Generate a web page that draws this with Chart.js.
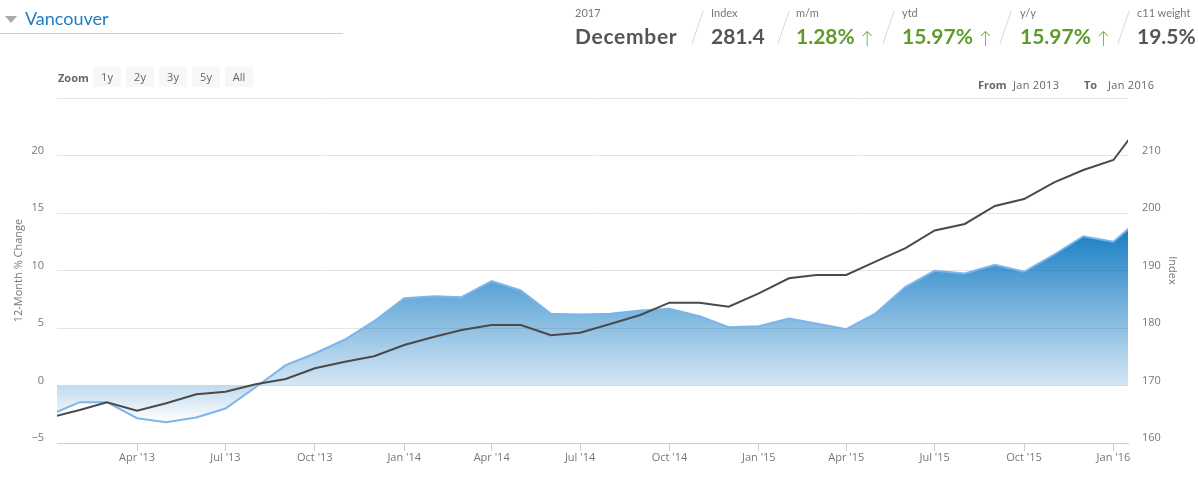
<!DOCTYPE html>
<html><head><meta charset="utf-8">
<script src="https://cdn.jsdelivr.net/npm/chart.js@4"></script>
<style>
html,body{margin:0;padding:0;background:#fff;width:1198px;height:478px;overflow:hidden;font-family:Lato,sans-serif}
#c{position:absolute;left:0;top:0}
.t{position:absolute;white-space:nowrap;line-height:1}
.lab{font-size:11px;color:#777;top:7px}
.big{font-size:21px;color:#555;font-weight:700;top:25px}
.up{color:#5f9a2a}
.ar{font-weight:300;font-size:17px;margin-left:1px}
.sl{position:absolute;width:1px;height:35px;background:#d8d8d8;top:10px;transform:rotate(19deg)}
.btn{position:absolute;top:67px;height:20px;width:28px;background:#f7f7f7;color:#666;font:11px "Open Sans",sans-serif;text-align:center;line-height:19px}
.r{font:11px "Open Sans",sans-serif;color:#666;top:77px}
.v{letter-spacing:.3px}
</style></head><body>
<canvas id="c" width="1198" height="478"></canvas>
<div style="position:absolute;left:5px;top:16px;width:0;height:0;border-left:6px solid transparent;border-right:6px solid transparent;border-top:7px solid #aaa"></div>
<div class="t" style="left:25px;top:9px;font-size:18px;color:#1f7cc0">Vancouver</div>
<div style="position:absolute;left:0;top:33px;width:343px;height:1px;background:#ccc"></div>
<div class="t lab" style="left:575px">2017</div><div class="t big" style="left:575px;letter-spacing:.7px">December</div>
<div class="sl" style="left:697px"></div>
<div class="t lab" style="left:711px">Index</div><div class="t big" style="left:711px">281.4</div>
<div class="sl" style="left:783px"></div>
<div class="t lab" style="left:796px">m/m</div><div class="t big up" style="left:796px">1.28% <span class="ar">↑</span></div>
<div class="sl" style="left:888px"></div>
<div class="t lab" style="left:902px">ytd</div><div class="t big up" style="left:902px">15.97% <span class="ar">↑</span></div>
<div class="sl" style="left:1005px"></div>
<div class="t lab" style="left:1020px">y/y</div><div class="t big up" style="left:1020px">15.97% <span class="ar">↑</span></div>
<div class="sl" style="left:1123px"></div>
<div class="t lab" style="left:1137px">c11 weight</div><div class="t big" style="left:1137px">19.5%</div>
<div class="t r" style="left:58px;top:70px;font-weight:700">Zoom</div>
<div class="btn" style="left:93px">1y</div><div class="btn" style="left:126px">2y</div><div class="btn" style="left:159px">3y</div><div class="btn" style="left:192px">5y</div><div class="btn" style="left:225px">All</div>
<div class="t r" style="left:978px;font-weight:700">From</div><div class="t r v" style="left:1013px">Jan 2013</div>
<div class="t r" style="left:1084px;font-weight:700">To</div><div class="t r v" style="left:1108px">Jan 2016</div>
<script>
const months=['2013-01','2013-02','2013-03','2013-04','2013-05','2013-06','2013-07','2013-08','2013-09','2013-10','2013-11','2013-12',
'2014-01','2014-02','2014-03','2014-04','2014-05','2014-06','2014-07','2014-08','2014-09','2014-10','2014-11','2014-12',
'2015-01','2015-02','2015-03','2015-04','2015-05','2015-06','2015-07','2015-08','2015-09','2015-10','2015-11','2015-12',
'2016-01','2016-02'];
const changePct=[-2.57,-1.45,-1.45,-2.84,-3.19,-2.78,-2.0,-0.15,1.77,2.78,4.0,5.59,
7.59,7.77,7.68,9.07,8.26,6.23,6.17,6.23,6.52,6.67,6.03,5.07,
5.16,5.83,5.39,4.9,6.26,8.58,9.97,9.74,10.5,9.89,11.39,12.98,
12.5,14.78];
const indexVals=[164.42,165.74,167.08,165.62,166.9,168.47,168.92,170.21,171.13,172.99,174.14,175.08,
177.04,178.49,179.65,180.52,180.52,178.73,179.18,180.7,182.26,184.4,184.4,183.7,
186.03,188.64,189.22,189.22,191.53,193.9,196.96,198.09,201.22,202.43,205.34,207.48,
209.22,216.17];
const xTickMonths=['2013-04','2013-07','2013-10','2014-01','2014-04','2014-07','2014-10','2015-01','2015-04','2015-07','2015-10','2016-01'];
const xTickLabels=["Apr '13","Jul '13","Oct '13","Jan '14","Apr '14","Jul '14","Oct '14","Jan '15","Apr '15","Jul '15","Oct '15","Jan '16"];
const leftTicks=[-5,0,5,10,15,20,25];
const rightTicks=[160,170,180,190,200,210,220];
const days=m=>{const [y,mo]=m.split('-').map(Number);return (Date.UTC(y,mo-1,1)-Date.UTC(2013,0,1))/864e5};
const font={family:'"Open Sans",sans-serif',size:11};
const gridCol='#e4e4e4',txt='#777';
const chart=new Chart(document.getElementById('c'),{
 type:'line',
 data:{datasets:[
  {label:'Index',yAxisID:'yR',data:months.map((m,i)=>({x:days(m),y:indexVals[i]})),borderColor:'#4a4a4a',borderWidth:2,pointRadius:0,tension:0,fill:false,order:0},
  {label:'12-Month % Change',yAxisID:'yL',data:months.map((m,i)=>({x:days(m),y:changePct[i]})),borderColor:'#7cb5ec',borderWidth:2,pointRadius:0,tension:0,fill:'origin',order:1}
 ]},
 options:{responsive:false,animation:false,devicePixelRatio:1,
  layout:{padding:{top:98,left:0,right:0,bottom:0}},
  plugins:{legend:{display:false},tooltip:{enabled:false}},
  scales:{
   x:{type:'linear',min:7.6,max:1110,
    afterBuildTicks(s){s.ticks=xTickMonths.map(m=>({value:days(m)}))},
    afterFit(s){s.height=35},
    grid:{drawOnChartArea:false,drawTicks:true,tickLength:8,tickColor:'#c0d0e0'},
    border:{color:'#c0d0e0'},
    ticks:{autoSkip:false,maxRotation:0,font,color:txt,padding:0,callback(v){const i=xTickMonths.findIndex(m=>days(m)===v);return i<0?'':xTickLabels[i]}}},
   yL:{position:'left',min:-5,max:25,
    afterBuildTicks(s){s.ticks=leftTicks.map(v=>({value:v}))},
    afterFit(s){s.width=57},
    grid:{color:gridCol,drawTicks:false},border:{display:false},
    title:{display:true,text:'12-Month % Change',font,color:txt,padding:{top:12,bottom:0}},
    ticks:{font,color:txt,padding:13,labelOffset:-5,callback:v=>v===25?'':String(v).replace('-','−')}},
   yR:{position:'right',min:160,max:220,
    afterBuildTicks(s){s.ticks=rightTicks.map(v=>({value:v}))},
    afterFit(s){s.width=70},
    grid:{drawOnChartArea:false,drawTicks:false},border:{display:false},
    title:{display:true,text:'Index',font,color:txt,padding:{top:19,bottom:0}},
    ticks:{font,color:txt,padding:14,labelOffset:-5,callback:v=>v===220?'':String(v)}}
  }
 }
});
const ctx=chart.ctx,yL=chart.scales.yL,z=yL.getPixelForValue(0);
const up=ctx.createLinearGradient(0,yL.getPixelForValue(14.78),0,z);
up.addColorStop(0,'rgba(0,112,190,0.97)');up.addColorStop(1,'rgba(0,112,190,0.17)');
const dn=ctx.createLinearGradient(0,z,0,yL.getPixelForValue(-3.19));
dn.addColorStop(0,'rgba(0,112,190,0.25)');dn.addColorStop(1,'rgba(0,112,190,0)');
chart.data.datasets[1].fill={target:'origin',above:up,below:dn};
chart.update('none');
</script></body></html>
